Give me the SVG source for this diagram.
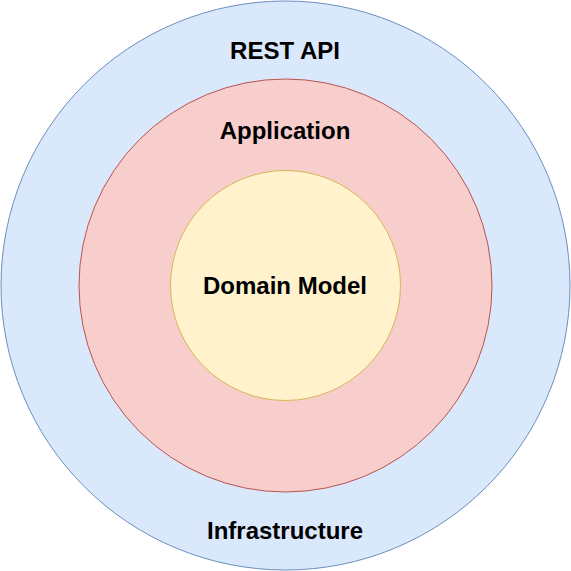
<svg xmlns="http://www.w3.org/2000/svg" width="571" height="571" viewBox="0 0 571 571">
<style>
.lbl{font-family:"Liberation Sans",Arial,Helvetica,sans-serif;font-weight:bold;font-size:24px;fill:#000;text-anchor:middle}
</style>
<rect width="571" height="571" fill="#fff"/>
<g id="infrastructure">
<circle cx="285.5" cy="285.5" r="284.5" fill="#dae8fc" stroke="#6c8ebf"/>
<text class="lbl" x="285" y="59">REST API</text>
<text class="lbl" x="285" y="539">Infrastructure</text>
</g>
<g id="application">
<circle cx="285.5" cy="285.5" r="206.5" fill="#f8cecc" stroke="#b85450"/>
<text class="lbl" x="285" y="139">Application</text>
</g>
<g id="domain-model">
<circle cx="285.5" cy="285.5" r="115" fill="#fff2cc" stroke="#d6b656"/>
<text class="lbl" x="285" y="294">Domain Model</text>
</g>
<g id="connectors"/>
</svg>
